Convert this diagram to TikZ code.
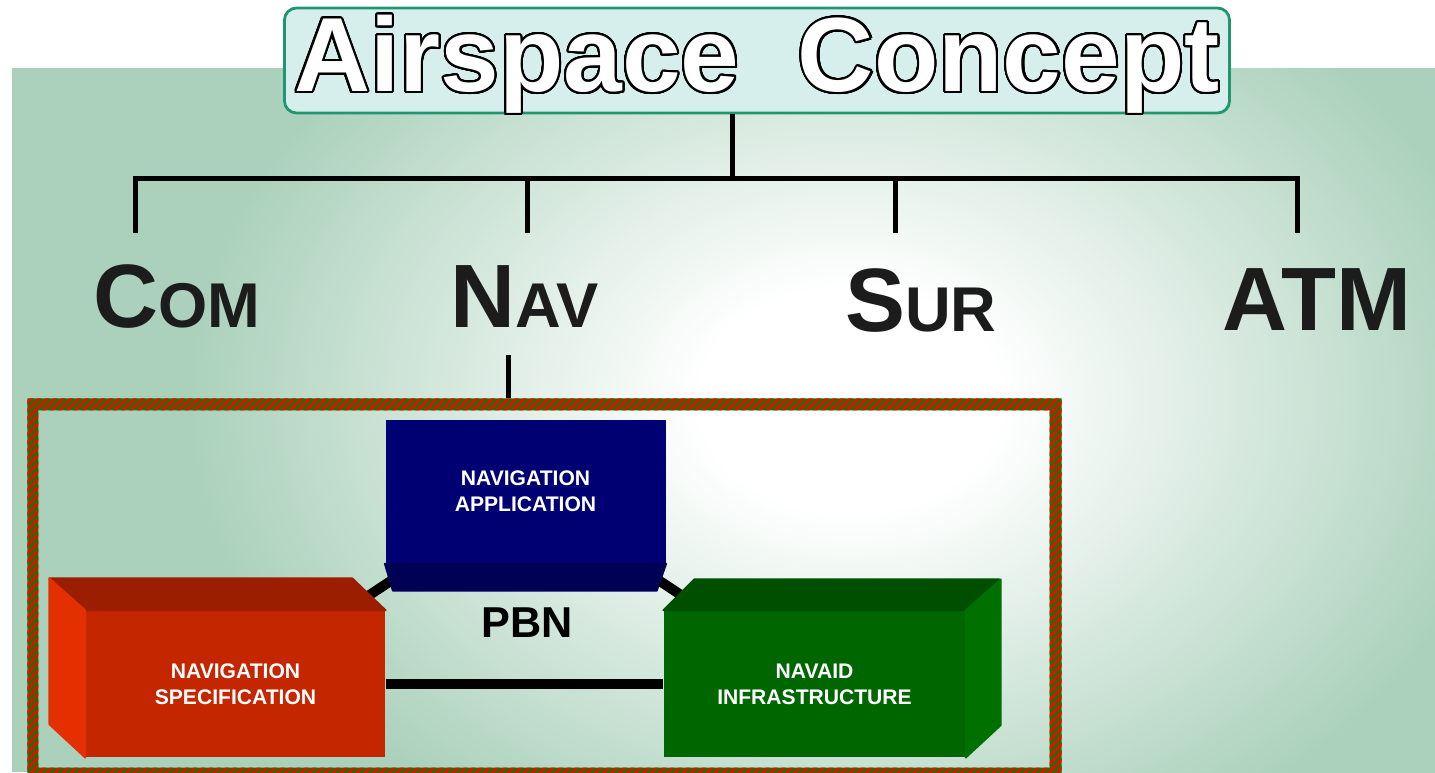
\documentclass[tikz,border=0pt]{standalone}
\usepackage{fontspec}
\setmainfont{Liberation Sans}
\usepackage{contour}
\contourlength{0.6pt}
\contournumber{32}
\usetikzlibrary{patterns.meta}

\definecolor{bggreen}{RGB}{171,209,188}
\definecolor{titlefill}{RGB}{214,239,236}
\definecolor{titleline}{RGB}{30,150,110}
\definecolor{labelgray}{RGB}{28,28,28}
\definecolor{appfront}{RGB}{0,0,115}
\definecolor{appside}{RGB}{0,0,85}
\definecolor{specfront}{RGB}{196,38,0}
\definecolor{spectop}{RGB}{155,30,0}
\definecolor{specside}{RGB}{228,48,0}
\definecolor{infrafront}{RGB}{0,102,0}
\definecolor{infratop}{RGB}{0,78,0}
\definecolor{infraside}{RGB}{0,112,0}
\definecolor{framegreen}{RGB}{0,128,0}

\pgfdeclareradialshading{glow}{\pgfpoint{0bp}{0bp}}{color(0bp)=(white); color(5bp)=(white); color(22bp)=(bggreen); color(50bp)=(bggreen)}

\pgfdeclarelayer{back}
\pgfdeclarelayer{links}
\pgfsetlayers{back,links,main}

\newcommand{\capsc}[2]{{\fontsize{25.6}{28}\selectfont #1}{\fontsize{18}{20}\selectfont #2}}

\begin{document}
\begin{tikzpicture}[
    x=0.1mm, y=-0.1mm,
    titlebox/.style={rectangle, rounded corners=1.2mm, draw=titleline, line width=0.8pt, fill=titlefill,
        minimum width=94.5mm, minimum height=10.5mm, inner sep=0, text=white,
        text height=7.7mm, text depth=1.5mm,
        font=\fontsize{30}{32}\selectfont\bfseries},
    branch/.style={anchor=base, inner sep=0, text=labelgray, font=\bfseries},
    tree/.style={line width=0.5mm, black},
    link/.style={line width=1mm, black},
    boxface/.style={rectangle, inner sep=0, text=white, align=center,
        font=\fontsize{6}{7.4}\selectfont\bfseries},
    side/.style={fill=#1, draw=#1, line width=0.5pt, line join=round}
]
    \useasboundingbox (0,0) rectangle (1435,772);

    \begin{pgfonlayer}{back}
        \begin{scope}
            \clip (12,68) rectangle (1435,772);
            \fill[bggreen] (12,68) rectangle (1435,772);
            \shade[shading=glow] (100,-160) rectangle (1600,960);
        \end{scope}
    \end{pgfonlayer}

    \node[titlebox] (title) at (757,60.5) {\contour{black}{Airspace\ \ Concept}};

    \node[branch] (com) at (177,327) {\capsc{C}{OM}};
    \node[branch] (nav) at (525,327) {\capsc{N}{AV}};
    \node[branch] (sur) at (921,331) {\capsc{S}{UR}};
    \node[branch] (atm) at (1317,330) {\fontsize{25.6}{28}\selectfont ATM};

    \coordinate (hub) at (732,178);
    \coordinate (comdrop) at (135,233);
    \coordinate (navdrop) at (527,233);
    \coordinate (surdrop) at (895,233);
    \coordinate (atmdrop) at (1297,233);
    \coordinate (navfoot) at (508,355);

    \draw[tree] (title.south -| hub) -- (hub);
    \draw[tree] (comdrop) |- (hub) -| (atmdrop);
    \draw[tree] (navdrop |- hub) -- (navdrop);
    \draw[tree] (surdrop |- hub) -- (surdrop);

    \node[minimum width=103.3mm, minimum height=37.9mm, inner sep=0] (frame) at (544.5,588.5) {};
    \fill[framegreen, even odd rule]
        (frame.north west) rectangle (frame.south east)
        ([shift={(11,12)}]frame.north west) rectangle ([shift={(-12,-11)}]frame.south east);
    \fill[even odd rule, pattern={Lines[angle=45, distance=1.6pt, line width=0.8pt]}, pattern color=red]
        (frame.north west) rectangle (frame.south east)
        ([shift={(11,12)}]frame.north west) rectangle ([shift={(-12,-11)}]frame.south east);
    \draw[tree] (navfoot) -- (navfoot |- frame.north);

    \node[boxface, fill=appfront, minimum width=28mm, minimum height=14.3mm] (app) at (525.5,491.5) {NAVIGATION\\APPLICATION};
    \path[side=appside] (app.south west) -- ++(8,27) -- ++(264,0) -- (app.south east) -- cycle;

    \node[boxface, fill=specfront, minimum width=29.9mm, minimum height=14.6mm] (spec) at (235.5,684) {NAVIGATION\\SPECIFICATION};
    \path[side=spectop] (spec.north west) -- ++(-36,-32) -- ++(303,0) -- (spec.north east) -- cycle;
    \path[side=specside] (spec.north west) -- ++(-36,-32) -- ++(0,146) -- (spec.south west) -- cycle;

    \node[boxface, fill=infrafront, minimum width=30.1mm, minimum height=14.6mm] (infra) at (814.5,684) {NAVAID\\INFRASTRUCTURE};
    \path[side=infratop] (infra.north west) -- ++(31,-31) -- ++(305,0) -- (infra.north east) -- cycle;
    \path[side=infraside] (infra.north east) -- ++(35,-31) -- ++(0,146) -- (infra.south east) -- cycle;

    \node[font=\fontsize{12.3}{14}\selectfont\bfseries, inner sep=0] (pbn) at (527,623) {PBN};

    \begin{pgfonlayer}{links}
        \draw[link] (app) -- (spec);
        \draw[link] (app) -- (infra);
        \draw[link] (spec) -- (infra);
    \end{pgfonlayer}
\end{tikzpicture}
\end{document}
